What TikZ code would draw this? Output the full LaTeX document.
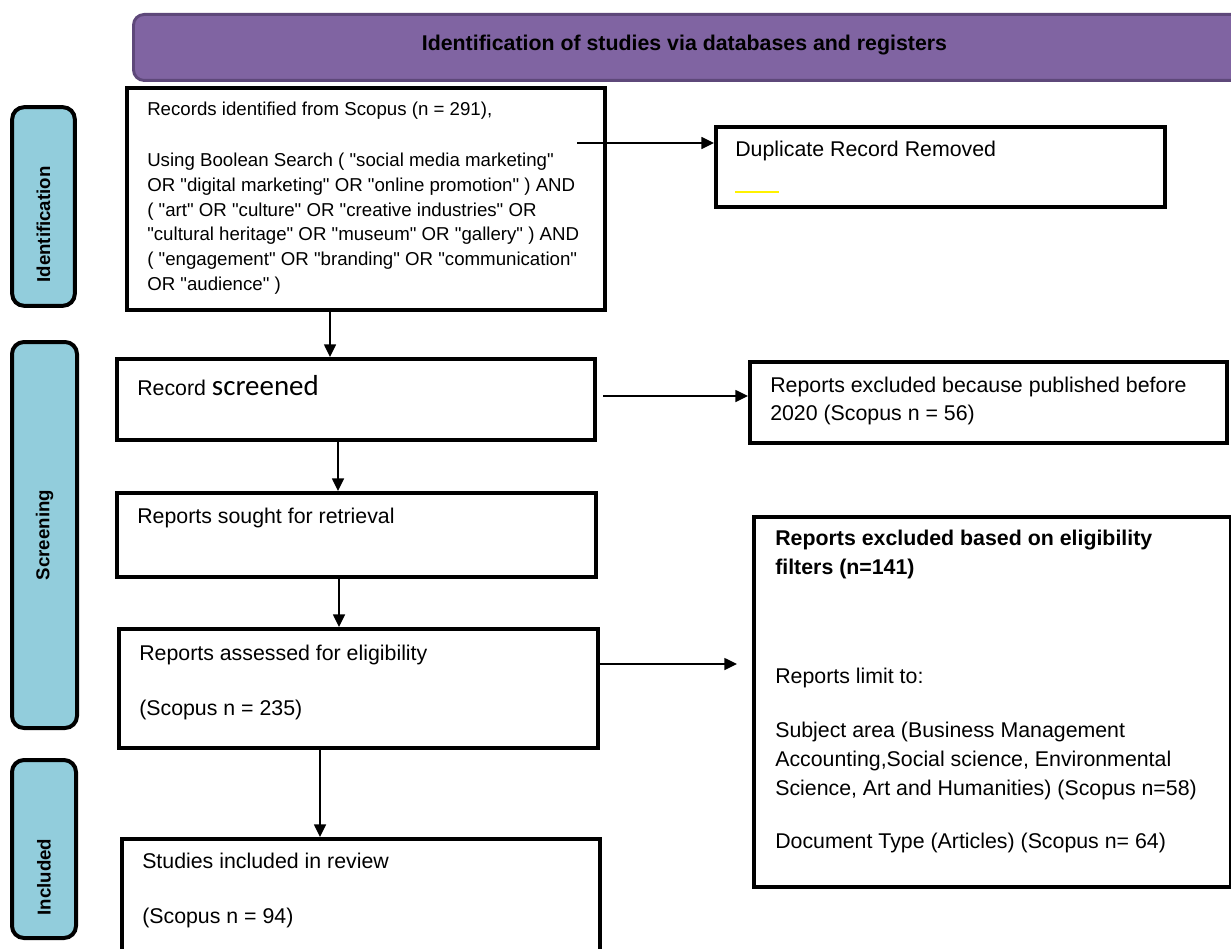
\documentclass[tikz,border=0pt]{standalone}
\usepackage{fontspec}
\setmainfont{Liberation Sans}[Ligatures=TeXOff]
\newfontfamily\calfont{Carlito}
\usepackage{tikz}
\usetikzlibrary{arrows.meta,positioning}
\definecolor{hdrfill}{RGB}{128,100,162}
\definecolor{hdrline}{RGB}{94,72,122}
\definecolor{stagefill}{RGB}{146,205,220}
\tikzset{
  box/.style={draw,line width=3.2pt,fill=white,anchor=north west,inner sep=0pt},
  stage/.style={draw,line width=3pt,fill=stagefill,rounded corners=9pt,rotate=90,inner sep=0pt,font=\fontsize{14}{16}\selectfont\bfseries},
  txt/.style={anchor=base west,inner sep=0pt,align=left,font=\fontsize{16}{21.4}\selectfont},
  smalltxt/.style={txt,font=\fontsize{14}{18.5}\selectfont},
  arr/.style={line width=1.1pt,-{Triangle[length=9.5pt,width=9pt]}}
}
\begin{document}
\begin{tikzpicture}[x=0.75pt,y=-0.75pt]
\useasboundingbox (0,0) rectangle (1231,949);
% header and stages
\node[draw=hdrline,line width=2.2pt,fill=hdrfill,rounded corners=8pt,anchor=north west,minimum width=832.5pt,minimum height=49.5pt,text depth=7.5pt,font=\fontsize{16}{18}\selectfont\bfseries] (head) at (132,13) {\hspace*{-6pt}Identification of studies via databases and registers};
\node[stage,minimum width=149pt,minimum height=47pt] (ident) at (43.5,206.5) {\hspace*{-27pt}Identification};
\node[stage,minimum width=289.5pt,minimum height=48.75pt] (screen) at (44.5,535) {Screening};
\node[stage,minimum width=133.5pt,minimum height=48pt] (incl) at (44,849) {\hspace*{-42pt}Included};
% boxes
\node[box,minimum width=358.5pt,minimum height=166.5pt] (rec) at (125,86) {};
\node[box,minimum width=336.75pt,minimum height=60pt] (dup) at (714,125) {};
\node[box,minimum width=358.5pt,minimum height=60.75pt] (scr) at (115,357) {};
\node[box,minimum width=357.75pt,minimum height=60.75pt] (excl) at (748,360) {};
\node[box,minimum width=359.25pt,minimum height=63pt] (sought) at (115,491) {};
\node[box,minimum width=357.75pt,minimum height=277.5pt] (elig) at (752,515) {};
\node[box,minimum width=359.25pt,minimum height=89.25pt] (assess) at (117,627) {};
\node[box,minimum width=358.5pt,minimum height=97.5pt] (study) at (120,837) {};
% texts (multi-line ones sit on their last baseline)
\node[smalltxt] (rectitle) at (147,115.7) {Records identified from Scopus (n = 291),};
\node[smalltxt] (recquery) at (147,290) {Using Boolean Search ( "social media marketing"\\ OR "digital marketing" OR "online promotion" ) AND\\ ( "art" OR "culture" OR "creative industries" OR\\ "cultural heritage" OR "museum" OR "gallery" ) AND\\ ( "engagement" OR "branding" OR "communication"\\ OR "audience" )};
\node[txt] (duptxt) at (735,156) {Duplicate Record Removed};
\draw[yellow,line width=1.5pt] (735,192) -- (779,192);
\node[txt] (scrtxt) at (137,395) {Record {\calfont\fontsize{21.7}{24}\selectfont screened}};
\node[txt,font=\fontsize{16}{21}\selectfont] (excltxt) at (770,420) {Reports excluded because published before\\2020 (Scopus n = 56)};
\node[txt] (soughttxt) at (137,523) {Reports sought for retrieval};
\node[txt,font=\fontsize{16}{21.75}\selectfont\bfseries] (eligtitle) at (775,574) {Reports excluded based on eligibility\\filters (n=141)};
\node[txt] (eliglimit) at (775,683) {Reports limit to:};
\node[txt] (eligsubj) at (775,795) {Subject area (Business Management\\Accounting,Social science, Environmental\\Science, Art and Humanities) (Scopus n=58)};
\node[txt] (eligdoc) at (775,848) {Document Type (Articles) (Scopus n= 64)};
\node[txt] (assesstxt) at (139,660) {Reports assessed for eligibility};
\node[txt] (assessn) at (139,715) {(Scopus n = 235)};
\node[txt] (studytxt) at (142,868) {Studies included in review};
\node[txt] (studyn) at (142,923) {(Scopus n = 94)};
% arrows
\coordinate (dupout) at (577,143);
\coordinate (scrout) at (603,396);
\coordinate (eligin) at (737,664);
\draw[arr] (dupout) -- (dupout -| dup.west);
\draw[arr] (330,0 |- rec.south) -- (330,0 |- scr.north);
\draw[arr] (scrout) -- (scrout -| excl.west);
\draw[arr] (338,0 |- scr.south) -- (338,0 |- sought.north);
\draw[arr] (339,0 |- sought.south) -- (339,0 |- assess.north);
\draw[arr] (assess.east |- eligin) -- (eligin);
\draw[arr] (320,0 |- assess.south) -- (320,0 |- study.north);
\end{tikzpicture}
\end{document}
